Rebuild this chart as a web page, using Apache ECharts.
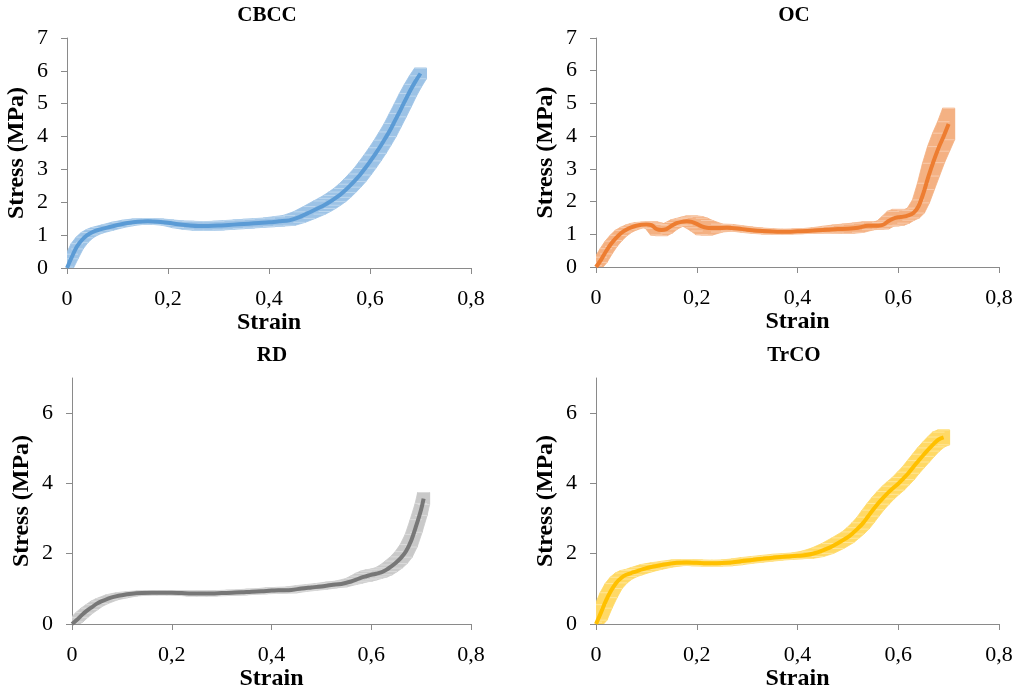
<!DOCTYPE html>
<html>
<head>
<meta charset="utf-8">
<script src="https://cdn.jsdelivr.net/npm/echarts@6/dist/echarts.min.js"></script>
<style>
html,body{margin:0;padding:0;background:#fff;}
#chart{width:1024px;height:687px;}
</style>
</head>
<body>
<div id="chart"></div>
<script>
// ---------- DATA ----------
const panelTitles = ['CBCC', 'OC', 'RD', 'TrCO'];
const xTicks = [0, 0.2, 0.4, 0.6, 0.8];
const yTicksTop = [0, 1, 2, 3, 4, 5, 6, 7];
const yTicksBottom = [0, 2, 4, 6];

const cbccStrain = [0,.01,.02,.03,.04,.05,.06,.08,.10,.12,.14,.16,.18,.20,.22,.24,.26,.28,.30,.32,.34,.36,.38,.40,.42,.44,.46,.48,.50,.51,.52,.53,.54,.55,.56,.57,.58,.59,.60,.61,.62,.63,.64,.65,.66,.67,.68,.69,.70];
const cbccStress = [0,.35,.66,.86,1.0,1.09,1.15,1.23,1.31,1.37,1.41,1.42,1.41,1.38,1.33,1.30,1.28,1.28,1.29,1.31,1.33,1.35,1.37,1.39,1.42,1.45,1.55,1.69,1.84,1.92,2.01,2.11,2.22,2.35,2.50,2.66,2.83,3.03,3.24,3.46,3.69,3.94,4.20,4.50,4.80,5.11,5.41,5.68,5.92];
const cbccErr = [.03,.07,.08,.08,.08,.08,.08,.08,.08,.08,.08,.08,.08,.08,.10,.12,.13,.13,.13,.13,.13,.13,.13,.13,.14,.15,.16,.18,.20,.20,.20,.20,.20,.20,.20,.20,.20,.20,.20,.20,.20,.20,.20,.20,.20,.20,.18,.17,.16];

const ocStrain = [0,.01,.02,.03,.04,.05,.06,.07,.08,.09,.10,.11,.12,.13,.14,.15,.16,.17,.18,.19,.20,.21,.22,.24,.26,.28,.30,.32,.34,.36,.38,.40,.42,.44,.46,.48,.50,.52,.54,.56,.57,.58,.59,.60,.61,.62,.63,.64,.65,.66,.67,.68,.69,.70];
const ocStress = [0,.22,.48,.71,.89,1.04,1.14,1.21,1.26,1.29,1.30,1.28,1.16,1.13,1.16,1.26,1.34,1.38,1.40,1.38,1.32,1.24,1.20,1.19,1.20,1.18,1.14,1.11,1.09,1.08,1.08,1.09,1.10,1.12,1.14,1.16,1.17,1.20,1.26,1.26,1.29,1.40,1.48,1.52,1.54,1.58,1.65,1.85,2.26,2.77,3.23,3.64,3.99,4.37];
const ocErr = [.04,.08,.08,.08,.08,.08,.07,.07,.07,.07,.07,.10,.18,.17,.12,.10,.10,.10,.12,.18,.22,.25,.22,.12,.10,.08,.08,.08,.08,.07,.07,.07,.07,.08,.10,.12,.14,.14,.12,.10,.12,.15,.22,.24,.20,.15,.15,.20,.30,.40,.45,.45,.45,.48];

const rdStrain = [0,.01,.02,.03,.04,.05,.06,.08,.10,.12,.14,.16,.18,.20,.22,.24,.26,.28,.30,.32,.34,.36,.38,.40,.42,.44,.46,.48,.50,.52,.54,.56,.57,.58,.59,.60,.61,.62,.63,.64,.65,.66,.67,.68,.69,.70,.705];
const rdStress = [0,.12,.26,.38,.48,.58,.65,.76,.82,.86,.88,.89,.89,.89,.88,.87,.87,.87,.88,.89,.90,.92,.93,.95,.96,.97,1.01,1.04,1.07,1.11,1.14,1.21,1.26,1.32,1.36,1.40,1.43,1.47,1.54,1.64,1.75,1.89,2.08,2.37,2.79,3.26,3.57];
const rdErr = [.03,.06,.07,.07,.07,.07,.07,.07,.07,.06,.06,.06,.06,.06,.06,.07,.07,.07,.07,.07,.07,.07,.07,.08,.08,.08,.08,.08,.08,.08,.08,.08,.10,.12,.14,.14,.13,.13,.14,.15,.16,.17,.18,.18,.18,.17,.17];

const trcoStrain = [0,.01,.02,.03,.04,.05,.06,.07,.08,.10,.12,.14,.16,.18,.20,.22,.24,.26,.28,.30,.32,.34,.36,.38,.40,.42,.44,.46,.48,.50,.51,.52,.53,.54,.55,.56,.57,.58,.59,.60,.61,.62,.63,.64,.65,.66,.67,.68,.69];
const trcoStress = [0,.33,.67,.95,1.17,1.31,1.40,1.45,1.50,1.59,1.65,1.70,1.74,1.75,1.74,1.73,1.73,1.74,1.77,1.81,1.84,1.87,1.90,1.92,1.94,1.97,2.04,2.15,2.30,2.47,2.59,2.72,2.87,3.06,3.25,3.43,3.59,3.74,3.87,3.99,4.14,4.29,4.47,4.64,4.81,4.97,5.12,5.25,5.31];
const trcoErr = [.05,.22,.22,.20,.16,.14,.12,.10,.10,.10,.09,.08,.08,.08,.08,.08,.08,.08,.08,.08,.08,.08,.08,.08,.08,.10,.12,.14,.15,.15,.15,.16,.17,.18,.18,.18,.18,.18,.18,.18,.18,.18,.18,.19,.20,.20,.20,.21,.21];

// ---------- STYLE / LAYOUT ----------
const FONT = "'Liberation Serif','Times New Roman',serif";
const AXIS_COLOR = '#8a8a8a';
const panels = [
  {x: cbccStrain, y: cbccStress, e: cbccErr, line: '#5B9BD5', band: '#9DC3E6', cap: '#BDD7EE',
   grid: {left: 67, width: 404, top: 38, height: 230}, yTicks: yTicksTop, yInt: 1, titleX: 262, titleY: 0, xGap: 41},
  {x: ocStrain, y: ocStress, e: ocErr, line: '#ED7D31', band: '#F4B183', cap: '#F8CBAD',
   grid: {left: 596, width: 403, top: 38, height: 229}, yTicks: yTicksTop, yInt: 1, titleX: 789, titleY: 0, xGap: 41},
  {x: rdStrain, y: rdStress, e: rdErr, line: '#777777', band: '#C9C9C9', cap: '#DBDBDB',
   grid: {left: 72, width: 399, top: 378, height: 246}, yTicks: yTicksBottom, yInt: 2, titleX: 267, titleY: 340, xGap: 39},
  {x: trcoStrain, y: trcoStress, e: trcoErr, line: '#FFC000', band: '#FFD966', cap: '#FFE699',
   grid: {left: 596, width: 403, top: 378, height: 246}, yTicks: yTicksBottom, yInt: 2, titleX: 789, titleY: 340, xGap: 39}
];

// convex hull (monotone chain) of pixel points
function hull(pts) {
  pts = pts.slice().sort((a, b) => a[0] - b[0] || a[1] - b[1]);
  const cross = (o, a, b) => (a[0] - o[0]) * (b[1] - o[1]) - (a[1] - o[1]) * (b[0] - o[0]);
  const lower = [], upper = [];
  for (const p of pts) { while (lower.length >= 2 && cross(lower[lower.length - 2], lower[lower.length - 1], p) <= 0) lower.pop(); lower.push(p); }
  for (let i = pts.length - 1; i >= 0; i--) { const p = pts[i]; while (upper.length >= 2 && cross(upper[upper.length - 2], upper[upper.length - 1], p) <= 0) upper.pop(); upper.push(p); }
  upper.pop(); lower.pop();
  return lower.concat(upper);
}

// each item = one error bar; the band between consecutive error bars is swept by the caps
function errRender(p) {
  const W = 6;
  return function (params, api) {
    const i = params.dataIndex;
    const x = api.value(0), lo = api.value(1), hi = api.value(2);
    const a1 = api.coord([x, lo]), a2 = api.coord([x, hi]);
    const children = [];
    let pts = [[a1[0] - W, a1[1]], [a1[0] + W, a1[1]], [a2[0] - W, a2[1]], [a2[0] + W, a2[1]]];
    if (i < p.x.length - 1) {
      const b1 = api.coord([p.x[i + 1], p.y[i + 1] - p.e[i + 1]]);
      const b2 = api.coord([p.x[i + 1], p.y[i + 1] + p.e[i + 1]]);
      pts = pts.concat([[b1[0] - W, b1[1]], [b1[0] + W, b1[1]], [b2[0] - W, b2[1]], [b2[0] + W, b2[1]]]);
    }
    children.push({type: 'polygon', shape: {points: hull(pts)}, style: {fill: p.band, stroke: p.band, lineWidth: 0.8}});
    children.push({type: 'line', shape: {x1: a2[0] - W, y1: a2[1], x2: a2[0] + W, y2: a2[1]}, style: {stroke: p.cap, lineWidth: 1}, z2: 2});
    children.push({type: 'line', shape: {x1: a1[0] - W, y1: a1[1], x2: a1[0] + W, y2: a1[1]}, style: {stroke: p.cap, lineWidth: 1}, z2: 2});
    return {type: 'group', children};
  };
}

const option = {
  backgroundColor: '#fff',
  animation: false,
  title: panels.map((p, i) => ({
    text: panelTitles[i], left: p.titleX, top: p.titleY, textAlign: 'center',
    textStyle: {fontFamily: FONT, fontWeight: 'bold', fontSize: 21, color: '#000'}
  })),
  grid: panels.map(p => Object.assign({containLabel: false, outerBoundsMode: 'none'}, p.grid)),
  xAxis: panels.map((p, i) => ({
    type: 'value', gridIndex: i, min: 0, max: 0.8, interval: 0.2,
    name: 'Strain', nameLocation: 'middle', nameGap: p.xGap,
    nameTextStyle: {fontFamily: FONT, fontWeight: 'bold', fontSize: 24, color: '#000'},
    axisLine: {show: true, lineStyle: {color: AXIS_COLOR, width: 1}},
    axisTick: {show: true, inside: false, length: 6, lineStyle: {color: AXIS_COLOR}, customValues: xTicks},
    axisLabel: {fontFamily: FONT, fontSize: 22, color: '#000', margin: 20, customValues: xTicks,
      formatter: v => String(Math.round(v * 10) / 10).replace('.', ',')},
    splitLine: {show: false}
  })),
  yAxis: panels.map((p, i) => ({
    type: 'value', gridIndex: i, min: 0, max: 7, interval: p.yInt,
    name: 'Stress (MPa)', nameLocation: 'middle', nameGap: 38,
    nameTextStyle: {fontFamily: FONT, fontWeight: 'bold', fontSize: 24, color: '#000'},
    axisLine: {show: true, lineStyle: {color: AXIS_COLOR, width: 1}},
    axisTick: {show: true, inside: false, length: 6, lineStyle: {color: AXIS_COLOR}, customValues: p.yTicks},
    axisLabel: {fontFamily: FONT, fontSize: 22, color: '#000', margin: 19, customValues: p.yTicks},
    splitLine: {show: false}
  })),
  series: []
};

panels.forEach((p, i) => {
  option.series.push({
    type: 'custom', name: panelTitles[i] + ' error', xAxisIndex: i, yAxisIndex: i,
    renderItem: errRender(p), clip: true, silent: true,
    data: p.x.map((xv, k) => [xv, p.y[k] - p.e[k], p.y[k] + p.e[k]]),
    encode: {x: 0, y: [1, 2]}, z: 1
  });
  option.series.push({
    type: 'line', name: panelTitles[i], xAxisIndex: i, yAxisIndex: i,
    data: p.x.map((xv, k) => [xv, p.y[k]]),
    smooth: 0.3, showSymbol: false, symbol: 'none',
    lineStyle: {color: p.line, width: 4}, z: 2
  });
});

const chart = echarts.init(document.getElementById('chart'), null, {renderer: 'canvas'});
chart.setOption(option);
</script>
</body>
</html>
